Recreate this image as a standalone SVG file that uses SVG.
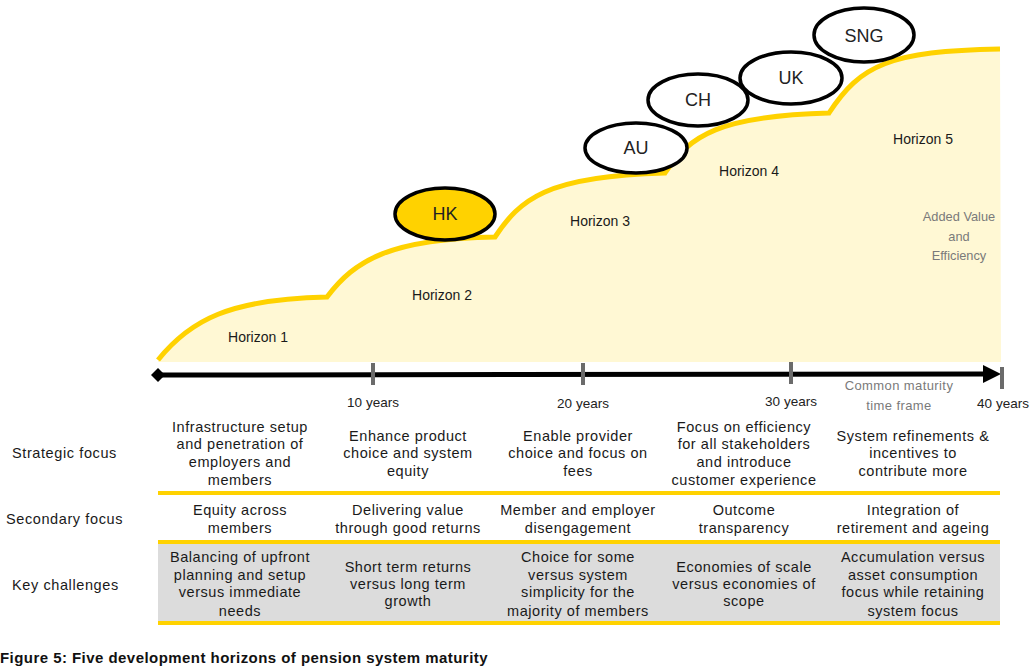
<svg xmlns="http://www.w3.org/2000/svg" width="1033" height="670" viewBox="0 0 1033 670">
<style>
text{font-family:"Liberation Sans",Arial,sans-serif;fill:#1a1a1a;}
.t{font-size:14.5px;letter-spacing:0.55px;text-anchor:middle;}
.lbl{font-size:14.5px;letter-spacing:0.6px;}
.h{font-size:14px;text-anchor:middle;}
.c{font-size:18px;text-anchor:middle;fill:#222;}
.g{font-size:12.8px;text-anchor:middle;fill:#7a7a7a;}
.gm{font-size:13px;letter-spacing:0.4px;text-anchor:middle;fill:#7a7a7a;}
.y{font-size:13.5px;text-anchor:middle;fill:#222;}
.ell{stroke:#000;stroke-width:3.5;fill:#fff;}
.tick{stroke:#6b6b6b;stroke-width:4;}
.yl{stroke:#FFD200;stroke-width:4;}
</style>
<rect width="1033" height="670" fill="#fff"/>
<g id="area">
<path d="M158,360 C190,320 230,299 327,297 C355,260 390,239 495,237 C520,200 545,176 665,173 C690,135 720,116 829,113 C860,65 890,51 1000,49 L1001,362 L158,362 Z" fill="#FFF8D4"/>
<path d="M158,360 C190,320 230,299 327,297 C355,260 390,239 495,237 C520,200 545,176 665,173 C690,135 720,116 829,113 C860,65 890,51 1000,49" fill="none" stroke="#FFD200" stroke-width="5"/>
<text class="h" x="258" y="342">Horizon 1</text>
<text class="h" x="442" y="300">Horizon 2</text>
<text class="h" x="600" y="226">Horizon 3</text>
<text class="h" x="749" y="176">Horizon 4</text>
<text class="h" x="923" y="144">Horizon 5</text>
<text class="g" x="959" y="221">Added Value</text>
<text class="g" x="959" y="241">and</text>
<text class="g" x="959" y="260">Efficiency</text>
</g>
<g id="HK"><ellipse class="ell" cx="445" cy="214" rx="50" ry="26" style="fill:#FFD200"/><text class="c" x="445" y="220">HK</text></g>
<g id="AU"><ellipse class="ell" cx="636" cy="148" rx="51" ry="25"/><text class="c" x="636" y="154">AU</text></g>
<g id="CH"><ellipse class="ell" cx="698" cy="100" rx="50" ry="26"/><text class="c" x="698" y="106">CH</text></g>
<g id="UK"><ellipse class="ell" cx="791" cy="78" rx="51" ry="26"/><text class="c" x="791" y="84">UK</text></g>
<g id="SNG"><ellipse class="ell" cx="864" cy="35" rx="50" ry="27"/><text class="c" x="864" y="42">SNG</text></g>
<g id="axis">
<line x1="160" y1="375" x2="986" y2="374" stroke="#000" stroke-width="5"/>
<polygon points="158,368 165,375 158,382 151,375" fill="#000"/>
<polygon points="983,365 1001,374 983,383" fill="#000"/>
<line class="tick" x1="373" y1="363" x2="373" y2="385"/>
<line class="tick" x1="583" y1="363" x2="583" y2="385"/>
<line class="tick" x1="791" y1="362" x2="791" y2="384"/>
<line class="tick" x1="1002" y1="367" x2="1002" y2="389"/>
<text class="y" x="373" y="407">10 years</text>
<text class="y" x="583" y="408">20 years</text>
<text class="y" x="791" y="406">30 years</text>
<text class="y" x="1003" y="408">40 years</text>
<text class="gm" x="899" y="390">Common maturity</text>
<text class="gm" x="899" y="410">time frame</text>
</g>
<g id="table">
<rect x="158" y="543" width="842" height="79" fill="#DCDCDC"/>
<line class="yl" x1="158" y1="493" x2="1000" y2="493"/>
<line class="yl" x1="158" y1="542" x2="1000" y2="542"/>
<line class="yl" x1="158" y1="623" x2="1000" y2="623"/>
<text class="lbl" x="12" y="458">Strategic focus</text>
<text class="lbl" x="6" y="524">Secondary focus</text>
<text class="lbl" x="12" y="590">Key challenges</text>
<text class="t" x="240"><tspan x="240" y="432">Infrastructure setup</tspan><tspan x="240" y="449">and penetration of</tspan><tspan x="240" y="467">employers and</tspan><tspan x="240" y="485">members</tspan></text>
<text class="t" x="408"><tspan x="408" y="441">Enhance product</tspan><tspan x="408" y="458">choice and system</tspan><tspan x="408" y="476">equity</tspan></text>
<text class="t" x="578"><tspan x="578" y="441">Enable provider</tspan><tspan x="578" y="458">choice and focus on</tspan><tspan x="578" y="476">fees</tspan></text>
<text class="t" x="744"><tspan x="744" y="432">Focus on efficiency</tspan><tspan x="744" y="449">for all stakeholders</tspan><tspan x="744" y="467">and introduce</tspan><tspan x="744" y="485">customer experience</tspan></text>
<text class="t" x="913"><tspan x="913" y="441">System refinements &amp;</tspan><tspan x="913" y="458">incentives to</tspan><tspan x="913" y="476">contribute more</tspan></text>
<text class="t" x="240"><tspan x="240" y="515">Equity across</tspan><tspan x="240" y="533">members</tspan></text>
<text class="t" x="408"><tspan x="408" y="515">Delivering value</tspan><tspan x="408" y="533">through good returns</tspan></text>
<text class="t" x="578"><tspan x="578" y="515">Member and employer</tspan><tspan x="578" y="533">disengagement</tspan></text>
<text class="t" x="744"><tspan x="744" y="515">Outcome</tspan><tspan x="744" y="533">transparency</tspan></text>
<text class="t" x="913"><tspan x="913" y="515">Integration of</tspan><tspan x="913" y="533">retirement and ageing</tspan></text>
<text class="t" x="240"><tspan x="240" y="562">Balancing of upfront</tspan><tspan x="240" y="580">planning and setup</tspan><tspan x="240" y="597">versus immediate</tspan><tspan x="240" y="616">needs</tspan></text>
<text class="t" x="408"><tspan x="408" y="572">Short term returns</tspan><tspan x="408" y="589">versus long term</tspan><tspan x="408" y="606">growth</tspan></text>
<text class="t" x="578"><tspan x="578" y="562">Choice for some</tspan><tspan x="578" y="580">versus system</tspan><tspan x="578" y="597">simplicity for the</tspan><tspan x="578" y="616">majority of members</tspan></text>
<text class="t" x="744"><tspan x="744" y="572">Economies of scale</tspan><tspan x="744" y="589">versus economies of</tspan><tspan x="744" y="606">scope</tspan></text>
<text class="t" x="913"><tspan x="913" y="562">Accumulation versus</tspan><tspan x="913" y="580">asset consumption</tspan><tspan x="913" y="597">focus while retaining</tspan><tspan x="913" y="616">system focus</tspan></text>
</g>
<text x="0" y="663" style="font-size:15px;font-weight:bold;letter-spacing:0.45px;fill:#111">Figure 5: Five development horizons of pension system maturity</text>
</svg>
